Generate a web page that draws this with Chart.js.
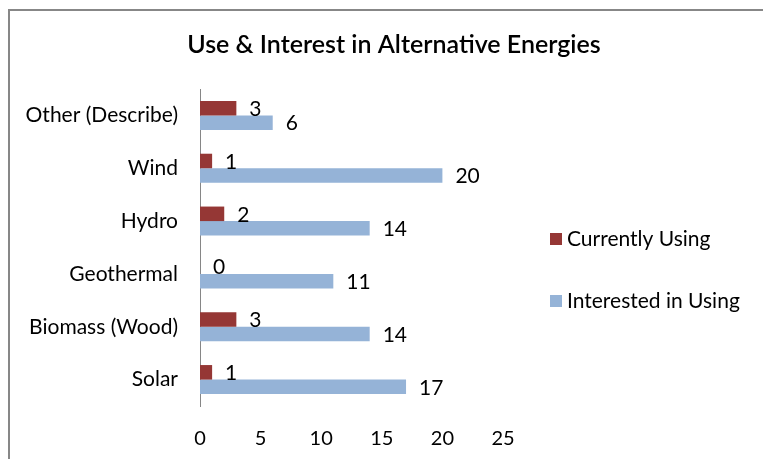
<!DOCTYPE html>
<html>
<head>
<meta charset="utf-8">
<script src="https://cdn.jsdelivr.net/npm/chart.js@4.4.1/dist/chart.umd.min.js"></script>
<style>
  html, body { margin: 0; padding: 0; background: #fff; }
  #wrap { position: relative; width: 763px; height: 459px; }
</style>
</head>
<body>
<div id="wrap"><canvas id="energyChart"></canvas></div>
<script>
// chart data
var categories = ['Other (Describe)', 'Wind', 'Hydro', 'Geothermal', 'Biomass (Wood)', 'Solar'];
var currentlyUsing = [3, 1, 2, 0, 3, 1];
var interestedInUsing = [6, 20, 14, 11, 14, 17];
var xTicks = [0, 5, 10, 15, 20, 25];
var chartTitle = 'Use & Interest in Alternative Energies';

var FONT = 'Lato, "Open Sans", sans-serif';

// frame: top and left grey lines like the original
var framePlugin = {
    id: 'frame',
    beforeDraw: function(chart) {
        var ctx = chart.ctx;
        ctx.save();
        ctx.strokeStyle = '#878787';
        ctx.lineWidth = 2;
        ctx.beginPath();
        ctx.moveTo(9, chart.height);
        ctx.lineTo(9, 10);
        ctx.lineTo(chart.width, 10);
        ctx.stroke();
        ctx.restore();
    }
};

// title centred on the whole frame, not only the plot
var titlePlugin = {
    id: 'centerTitle',
    afterDraw: function(chart) {
        var ctx = chart.ctx;
        ctx.save();
        ctx.font = '600 25px ' + FONT;
        ctx.fillStyle = '#000';
        ctx.textAlign = 'center';
        ctx.textBaseline = 'middle';
        ctx.fillText(chartTitle, 394, 45);
        ctx.restore();
    }
};

// value labels just past the bar ends
var valueLabels = {
    id: 'valueLabels',
    afterDatasetsDraw: function(chart) {
        var ctx = chart.ctx;
        ctx.save();
        ctx.font = '21px ' + FONT;
        ctx.fillStyle = '#000';
        ctx.textAlign = 'left';
        ctx.textBaseline = 'middle';
        chart.data.datasets.forEach(function(ds, i) {
            chart.getDatasetMeta(i).data.forEach(function(bar, j) {
                ctx.fillText(String(ds.data[j]), bar.x + 13, bar.y + 1);
            });
        });
        ctx.restore();
    }
};

// legend on the right, drawn by hand for exact spacing
var sideLegend = {
    id: 'sideLegend',
    afterDraw: function(chart) {
        var ctx = chart.ctx;
        var x = 550, y0 = 239, gap = 62;
        ctx.save();
        ctx.font = '21px ' + FONT;
        ctx.textBaseline = 'middle';
        ctx.textAlign = 'left';
        chart.data.datasets.forEach(function(ds, i) {
            var y = y0 + i * gap;
            ctx.fillStyle = ds.backgroundColor;
            ctx.fillRect(x, y - 6, 12, 12);
            ctx.fillStyle = '#000';
            ctx.fillText(ds.label, x + 17, y);
        });
        ctx.restore();
    }
};

var ctx = document.getElementById('energyChart');
var energyChart = new Chart(ctx, {
    type: 'bar',
    data: {
        labels: categories,
        datasets: [{
            label: 'Currently Using',
            data: currentlyUsing,
            backgroundColor: '#953735'
        }, {
            label: 'Interested in Using',
            data: interestedInUsing,
            backgroundColor: '#95B3D7'
        }]
    },
    options: {
        indexAxis: 'y',
        responsive: true,
        maintainAspectRatio: false,
        animation: false,
        layout: { padding: { left: 10, right: 260, top: 89, bottom: 0 } },
        datasets: {
            bar: { categoryPercentage: 0.55, barPercentage: 1.0 }
        },
        plugins: {
            legend: { display: false },
            tooltip: { enabled: false },
            title: { display: false }
        },
        scales: {
            x: {
                min: 0,
                max: 25,
                afterBuildTicks: function(scale) {
                    scale.ticks = xTicks.map(function(v) { return { value: v }; });
                },
                afterFit: function(scale) { scale.height = 53; },
                grid: { display: false, drawTicks: false },
                border: { display: false },
                ticks: { color: '#000', padding: 21, font: { family: FONT, size: 20 } }
            },
            y: {
                afterFit: function(scale) { scale.width = 190; },
                grid: { display: false, drawTicks: false },
                border: { display: true, color: '#868686', width: 1 },
                ticks: { color: '#000', padding: 22, font: { family: FONT, size: 21 } }
            }
        }
    },
    plugins: [framePlugin, titlePlugin, valueLabels, sideLegend]
});
</script>
</body>
</html>
